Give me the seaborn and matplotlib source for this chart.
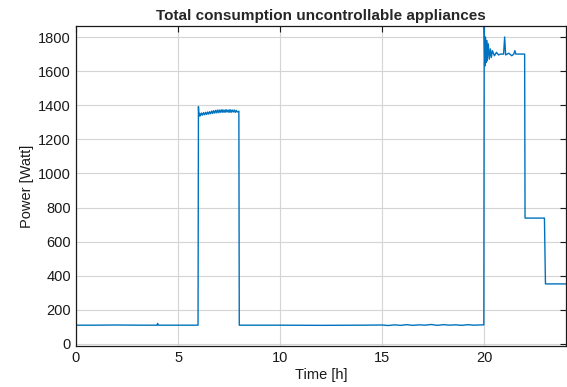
import matplotlib
matplotlib.use("Agg")
import matplotlib.pyplot as plt
import seaborn as sns
import pandas as pd

# --- Data (hours, Watt) ---
night_t = [0.0, 1.0, 2.0, 3.0, 3.97, 4.0, 4.03, 5.0, 5.98]
night_p = [110, 110, 111, 110, 110, 120, 110, 110, 110]

morning_t = [6.0, 6.02, 6.06, 6.1, 6.15, 6.2, 6.25, 6.3, 6.35, 6.4, 6.45, 6.5,
             6.55, 6.6, 6.65, 6.7, 6.75, 6.8, 6.85, 6.9, 6.95, 7.0, 7.05, 7.1,
             7.15, 7.2, 7.25, 7.3, 7.35, 7.4, 7.45, 7.5, 7.55, 7.6, 7.65, 7.7,
             7.75, 7.8, 7.85, 7.9, 7.98]
morning_p = [1392, 1335, 1352, 1338, 1354, 1342, 1356, 1344, 1358, 1346, 1360, 1348,
             1362, 1350, 1366, 1352, 1368, 1354, 1370, 1355, 1372, 1356, 1372, 1358,
             1374, 1358, 1372, 1358, 1374, 1360, 1372, 1358, 1374, 1358, 1372, 1360,
             1372, 1358, 1370, 1360, 1365]

day_t = [8.0, 10.0, 12.0, 14.0, 15.0, 15.3, 15.6, 15.9, 16.2, 16.5, 16.8, 17.1,
         17.4, 17.7, 18.0, 18.3, 18.6, 18.9, 19.2, 19.5, 19.98]
day_p = [110, 110, 109, 110, 111, 108, 112, 109, 113, 109, 112, 110,
         114, 109, 113, 110, 112, 109, 113, 110, 112]

evening_t = [20.0, 20.03, 20.06, 20.09, 20.12, 20.15, 20.2, 20.25, 20.3, 20.35,
             20.4, 20.5, 20.6, 20.7, 20.8, 20.95, 21.0, 21.05, 21.2, 21.35,
             21.45, 21.5, 21.55, 21.7, 21.98]
evening_p = [1865, 1630, 1800, 1650, 1780, 1660, 1760, 1670, 1730, 1680,
             1720, 1690, 1710, 1695, 1700, 1700, 1800, 1695, 1705, 1690,
             1700, 1720, 1700, 1700, 1700]

late_t = [22.0, 22.95, 23.0, 24.0]
late_p = [738, 738, 352, 352]

# --- Build one continuous trace ---
time_h = night_t + morning_t + day_t + evening_t + late_t
power_w = night_p + morning_p + day_p + evening_p + late_p
df = pd.DataFrame({"time": time_h, "power": power_w})

sns.set_style("white")
plt.rcParams["font.family"] = ["Liberation Sans", "DejaVu Sans"]

fig = plt.figure(figsize=(5.67, 3.87), dpi=100)
ax = fig.add_axes([0.134, 0.106, 0.864, 0.827])

sns.lineplot(data=df, x="time", y="power", sort=False, estimator=None,
             color="#0072BD", linewidth=1.0, ax=ax)

ax.set_xlim(0, 24)
ax.set_ylim(-12, 1865)
ax.set_xticks([0, 5, 10, 15, 20])
ax.set_yticks(range(0, 1801, 200))
ax.grid(True, color="#d4d4d4", linewidth=0.8)
ax.set_axisbelow(True)

ax.tick_params(direction="in", length=4, width=0.8, top=True, right=True,
               labelsize=10.5, colors="#1a1a1a")
for s in ax.spines.values():
    s.set_color("#1a1a1a")
    s.set_linewidth(0.9)

ax.set_xlabel("Time [h]", fontsize=10.5, color="#1a1a1a", labelpad=2)
ax.set_ylabel("Power [Watt]", fontsize=10.5, color="#1a1a1a", labelpad=3)
ax.set_title("Total consumption uncontrollable appliances", fontsize=11,
             fontweight="bold", pad=4)

fig.savefig("out.png", dpi=100)
